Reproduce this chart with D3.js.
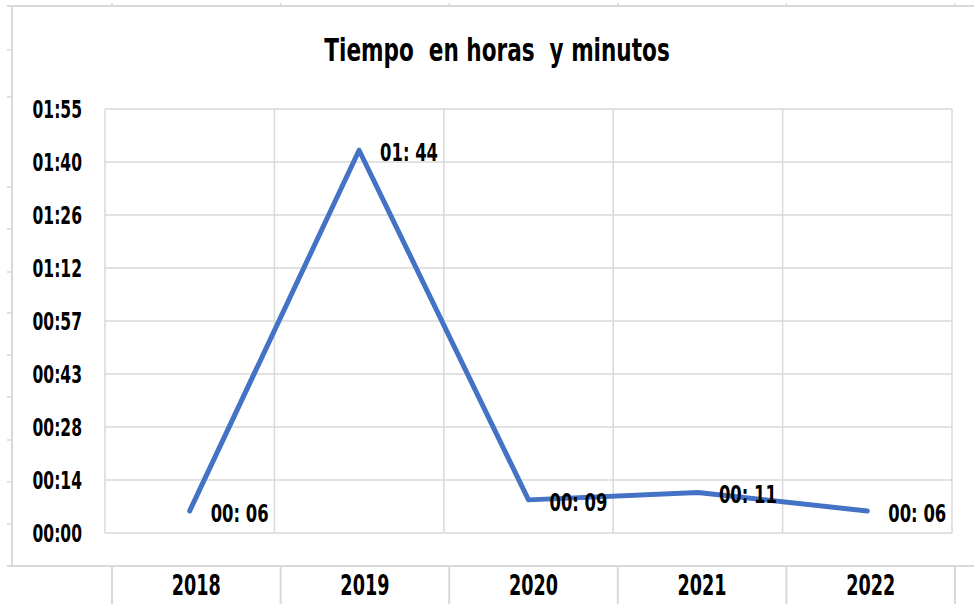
<!DOCTYPE html>
<html>
<head>
<meta charset="utf-8">
<script src="https://cdn.jsdelivr.net/npm/d3@7"></script>
<style>
  html, body { margin: 0; padding: 0; background: #ffffff; }
  svg { display: block; }
  text { font-family: 'Liberation Sans Narrow', 'DejaVu Sans Condensed', 'Arial Narrow', sans-serif; font-weight: bold; fill: #000; }
</style>
</head>
<body>
<svg id="chart" width="974" height="604"></svg>
<script>
// ---- data ----
const title = "Tiempo  en horas  y minutos";
const categories = ["2018", "2019", "2020", "2021", "2022"];
const minutes = [6, 104, 9, 11, 6];
const dataLabels = ["00: 06", "01: 44", "00: 09", "00: 11", "00: 06"];
const yTickValues = [0, 14.4, 28.8, 43.2, 57.6, 72, 86.4, 100.8, 115.2];
const yTickLabels = ["00:00", "00:14", "00:28", "00:43", "00:57", "01:12", "01:26", "01:40", "01:55"];

// ---- layout ----
const W = 974, H = 604;
const plot = { left: 105, right: 952, top: 109, bottom: 533 };
const sheet = { top: 6, left: 12, bottom: 566, cellLeft: 112, cellRight: 955 };
const sheetRowLines = [50, 97, 187, 229, 272, 313, 355, 397, 440, 482, 524];
const grid = "#d9d9d9";
const lineColor = "#4472C4";
const narrow = 0.72; // horizontal compression to imitate a condensed display face

const svg = d3.select("#chart");

// spreadsheet-like frame behind the chart
const frame = svg.append("g").attr("stroke", grid).attr("fill", "none");
frame.append("line").attr("x1", 7).attr("x2", W).attr("y1", sheet.top).attr("y2", sheet.top).attr("stroke-width", 2);
frame.append("line").attr("x1", sheet.left).attr("x2", sheet.left).attr("y1", sheet.top).attr("y2", sheet.bottom).attr("stroke-width", 2);
frame.append("line").attr("x1", 7).attr("x2", W).attr("y1", sheet.bottom).attr("y2", sheet.bottom).attr("stroke-width", 2);
frame.selectAll(".rowTick").data(sheetRowLines).join("line")
  .attr("x1", 7).attr("x2", sheet.left).attr("y1", d => d).attr("y2", d => d).attr("stroke-width", 1.5);

// scales
const x = d3.scaleBand().domain(categories).range([plot.left, plot.right]).padding(0);
const xCells = d3.scaleBand().domain(categories).range([sheet.cellLeft, sheet.cellRight]).padding(0);
const y = d3.scaleLinear().domain([0, 115.2]).range([plot.bottom, plot.top]);

// column lines below the chart (cells)
const cellEdges = categories.map(c => xCells(c)).concat([sheet.cellRight]);
frame.selectAll(".cellLine").data(cellEdges).join("line")
  .attr("x1", d => d).attr("x2", d => d).attr("y1", sheet.bottom).attr("y2", H).attr("stroke-width", 2);
frame.selectAll(".cellStub").data(cellEdges).join("line")
  .attr("x1", d => d).attr("x2", d => d).attr("y1", 3).attr("y2", sheet.top).attr("stroke-width", 1.5);

// gridlines
const g = svg.append("g");
g.selectAll(".hgrid").data(yTickValues).join("line")
  .attr("x1", plot.left).attr("x2", plot.right)
  .attr("y1", d => y(d)).attr("y2", d => y(d))
  .attr("stroke", grid).attr("stroke-width", 1.5);
const vEdges = categories.map(c => x(c)).concat([plot.right]);
g.selectAll(".vgrid").data(vEdges).join("line")
  .attr("x1", d => d).attr("x2", d => d)
  .attr("y1", plot.top).attr("y2", plot.bottom)
  .attr("stroke", grid).attr("stroke-width", 1.5);

// y axis labels
const yAxis = d3.axisLeft(y).tickValues(yTickValues)
  .tickFormat((d, i) => yTickLabels[i]).tickSize(0).tickPadding(0);
const ya = svg.append("g").attr("transform", `translate(${82},0)`).call(yAxis);
ya.select(".domain").remove();
ya.selectAll("text")
  .style("font-family", null).attr("font-size", 24).attr("dy", "0.36em")
  .attr("fill", "#000")
  .attr("transform", `scale(${narrow},1)`);

// helper: place text with horizontal compression
function placed(sel, fx, fy, s) {
  return sel.attr("transform", (d, i) => `translate(${fx(d, i)},${fy(d, i)}) scale(${s},1)`);
}

// x labels in the cells below
placed(svg.selectAll(".xlab").data(categories).join("text"),
  d => xCells(d) + xCells.bandwidth() / 2, () => 585, 0.7)
  .attr("dy", "0.36em")
  .attr("text-anchor", "middle")
  .attr("font-size", 28)
  .text(d => d);

// title
placed(svg.append("text"), () => 497, () => 61, 0.75)
  .attr("text-anchor", "middle")
  .attr("font-size", 32)
  .style("white-space", "pre")
  .text(title);

// line
const pts = categories.map((c, i) => ({ c, v: minutes[i], label: dataLabels[i] }));
const line = d3.line().x(d => x(d.c) + x.bandwidth() / 2).y(d => y(d.v));
svg.append("path").datum(pts)
  .attr("d", line)
  .attr("fill", "none")
  .attr("stroke", lineColor)
  .attr("stroke-width", 5)
  .attr("stroke-linejoin", "round")
  .attr("stroke-linecap", "round");

// data labels
placed(svg.selectAll(".dlab").data(pts).join("text"),
  d => x(d.c) + x.bandwidth() / 2 + 21, d => y(d.v) + 2, 0.76)
  .attr("dy", "0.36em")
  .attr("font-size", 24)
  .style("white-space", "pre")
  .text(d => d.label);
</script>
</body>
</html>
